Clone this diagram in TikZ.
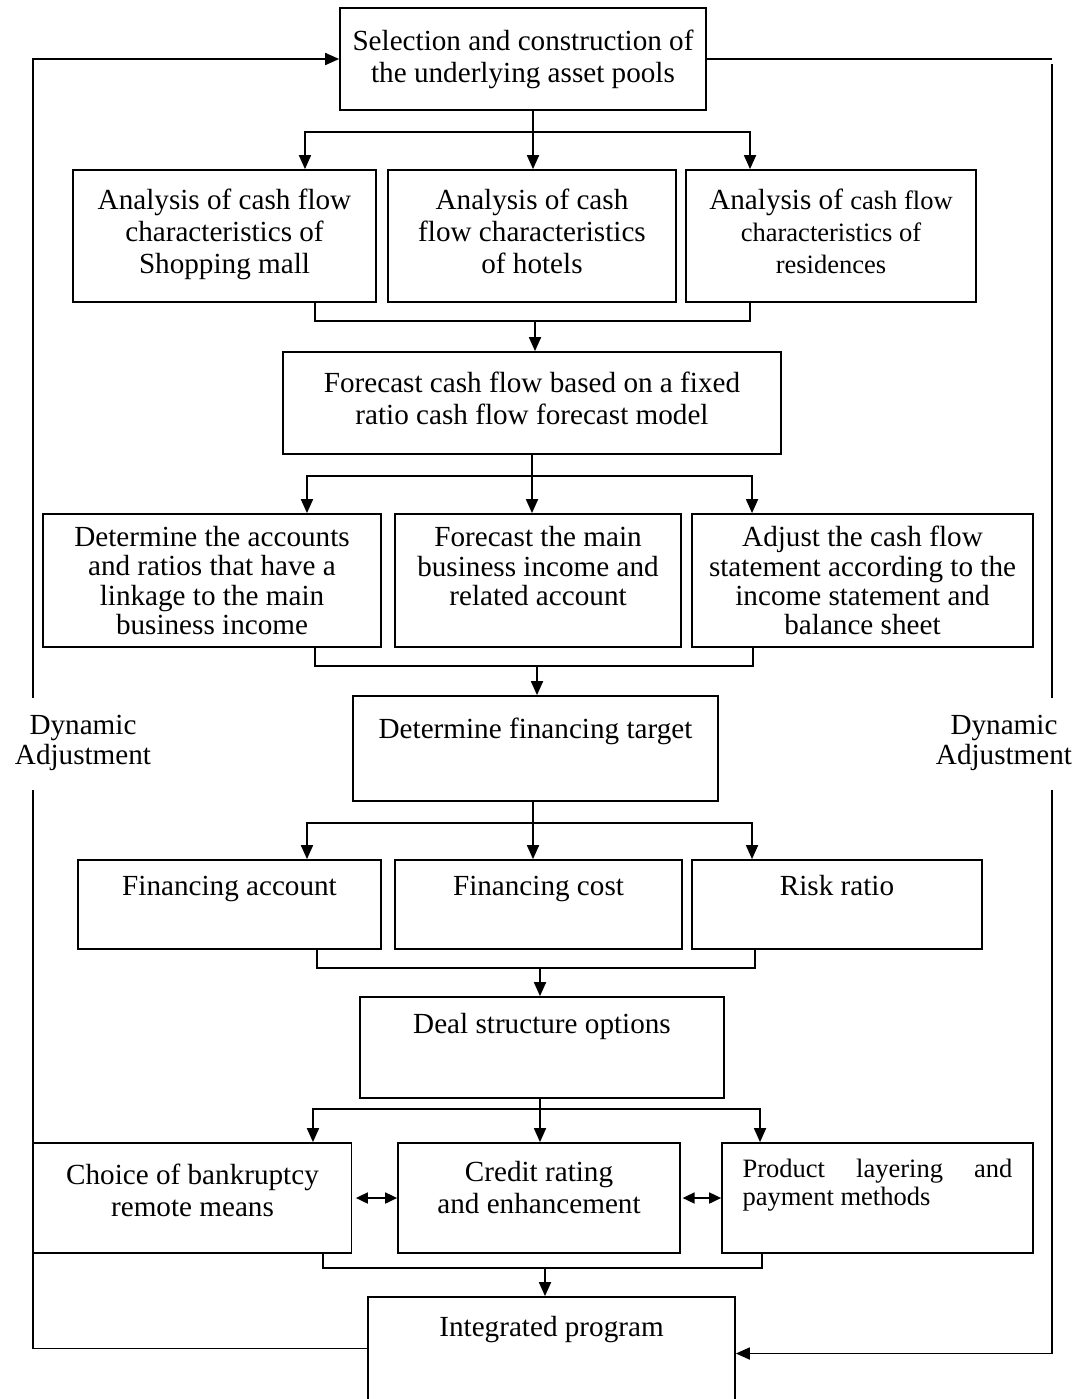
\documentclass[tikz,border=0pt]{standalone}
\usepackage{fontspec}
\setmainfont{Liberation Serif}
\usepackage{tikz}
\usetikzlibrary{arrows.meta,calc}
\newcommand{\mainfs}{\fontsize{16.6pt}{18.2pt}\selectfont}
\newcommand{\tightfs}{\fontsize{16.6pt}{16.6pt}\selectfont}
\newcommand{\smallfs}{\fontsize{15.1pt}{16pt}\selectfont}
\tikzset{
  box/.style={
    draw=black,
    line width=1pt,
    align=center,
    inner sep=0pt,
    font=\mainfs
  },
  lbl/.style={
    align=center,
    inner sep=0pt,
    font=\tightfs
  },
  link/.style={
    line width=1pt,
    black
  },
  arrow/.style={
    -{Triangle[length=0.28cm,width=0.24cm]},
    line width=1pt,
    black
  },
  dblarrow/.style={
    {Triangle[length=0.24cm,width=0.22cm]}-{Triangle[length=0.24cm,width=0.22cm]},
    line width=1pt,
    black
  }
}

\begin{document}
\begin{tikzpicture}[x=0.02cm,y=-0.02cm]
\useasboundingbox (0,0) rectangle (1081,1399);

% boxes
\node[box,minimum width=7.32cm,minimum height=2.04cm] (sel) at (523,59)
  {Selection and construction of\\the underlying asset pools};

\node[box,minimum width=6.06cm,minimum height=2.64cm] (l2a) at (224.5,236)
  {Analysis of cash flow\\characteristics of\\Shopping mall\strut};
\node[box,minimum width=5.76cm,minimum height=2.64cm] (l2b) at (532,236)
  {Analysis of cash\\flow characteristics\\of hotels\strut};
\node[box,minimum width=5.80cm,minimum height=2.64cm] (l2c) at (831,236)
  {Analysis of {\smallfs cash flow}\\{\smallfs characteristics of}\\{\smallfs residences}\strut};

\node[box,minimum width=9.96cm,minimum height=2.04cm] (fore) at (532,403)
  {Forecast cash flow based on a fixed\\ratio cash flow forecast model\strut};

\node[box,font=\tightfs,minimum width=6.76cm,minimum height=2.66cm] (l4a) at (212,580.5)
  {Determine the accounts\\and ratios that have a\\linkage to the main\\business income};
\node[box,font=\tightfs,minimum width=5.72cm,minimum height=2.66cm] (l4b) at (538,580.5)
  {Forecast the main\\business income and\\related account\\\mbox{}};
\node[box,font=\tightfs,minimum width=6.82cm,minimum height=2.66cm] (l4c) at (862.5,580.5)
  {Adjust the cash flow\\statement according to the\\income statement and\\balance sheet};

\node[box,minimum width=7.30cm,text height=0.84cm,text depth=1.26cm] (target) at (535.5,748.5)
  {Determine financing target};

\node[box,minimum width=6.06cm,text height=0.70cm,text depth=1.08cm] (l6a) at (229.5,904.5)
  {Financing account};
\node[box,minimum width=5.74cm,text height=0.70cm,text depth=1.08cm] (l6b) at (538.5,904.5)
  {Financing cost};
\node[box,minimum width=5.80cm,text height=0.70cm,text depth=1.08cm] (l6c) at (837,904.5)
  {Risk ratio};

\node[box,minimum width=7.28cm,text height=0.72cm,text depth=1.30cm] (deal) at (542,1047.5)
  {Deal structure options};

\node[box,minimum width=6.36cm,minimum height=2.2cm] (l8a) at (192.5,1198)
  {Choice of bankruptcy\\remote means\\[-9.2pt]};
\node[box,minimum width=5.64cm,minimum height=2.2cm] (l8b) at (539,1198)
  {Credit rating\\and enhancement\\[-5.7pt]};
\node[box,minimum width=6.22cm,minimum height=2.2cm] (l8c) at (877.5,1198)
  {\begin{minipage}{5.4cm}\smallfs\hyphenpenalty=10000
   Product layering and \mbox{payment} methods\\[1.5pt]\end{minipage}};

\node[box,minimum width=7.34cm,text height=0.78cm,text depth=1.48cm] (integ) at (551.5,1353.5)
  {Integrated program};

\node[lbl] (dynl) at (83,743) {Dynamic\\Adjustment};
\node[lbl] (dynr) at (1004,743) {Dynamic\\Adjustment};

% split and merge points
\coordinate (s1) at (533,132);
\coordinate (m1) at (535,321);
\coordinate (s2) at (532,476);
\coordinate (m2) at (537,666);
\coordinate (s3) at (533,823);
\coordinate (m3) at (540,968);
\coordinate (s4) at (540,1109);
\coordinate (m4) at (545,1268);

% selection -> analyses
\draw[link] (sel.south -| s1) -- (s1);
\draw[arrow] (s1) -| ([xshift=1.61cm]l2a.north);
\draw[arrow] (s1) -- (l2b.north -| s1);
\draw[arrow] (s1) -| ([xshift=-1.62cm]l2c.north);
\draw[link] ([xshift=1.81cm]l2a.south) |- (m1);
\draw[link] ([xshift=-1.62cm]l2c.south) |- (m1);
\draw[arrow] (m1) -- (fore.north -| m1);

% forecast -> accounts
\draw[link] (fore.south -| s2) -- (s2);
\draw[arrow] (s2) -| ([xshift=1.9cm]l4a.north);
\draw[arrow] (s2) -- (l4b.north -| s2);
\draw[arrow] (s2) -| ([xshift=-2.21cm]l4c.north);
\draw[link] ([xshift=2.06cm]l4a.south) |- (m2);
\draw[link] ([xshift=-2.19cm]l4c.south) |- (m2);
\draw[arrow] (m2) -- (target.north -| m2);

% target -> financing
\draw[link] (target.south -| s3) -- (s3);
\draw[arrow] (s3) -| ([xshift=1.55cm]l6a.north);
\draw[arrow] (s3) -- (l6b.north -| s3);
\draw[arrow] (s3) -| ([xshift=-1.7cm]l6c.north);
\draw[link] ([xshift=1.75cm]l6a.south) |- (m3);
\draw[link] ([xshift=-1.64cm]l6c.south) |- (m3);
\draw[arrow] (m3) -- (deal.north -| m3);

% deal -> options
\draw[link] (deal.south -| s4) -- (s4);
\draw[arrow] (s4) -| ([xshift=2.41cm]l8a.north);
\draw[arrow] (s4) -- (l8b.north -| s4);
\draw[arrow] (s4) -| ([xshift=-2.35cm]l8c.north);
\draw[dblarrow] ([xshift=2pt]l8a.east) -- (l8b.west);
\draw[dblarrow] ([xshift=1pt]l8b.east) -- (l8c.west);
\draw[link] ([xshift=2.61cm]l8a.south) |- (m4);
\draw[link] ([xshift=-2.31cm]l8c.south) |- (m4);
\draw[arrow] (m4) -- (integ.north -| m4);

% dynamic adjustment loops
\coordinate (lu) at (33,698);
\coordinate (ll) at (33,790);
\coordinate (ru) at (1052,698);
\coordinate (rl) at (1052,790);
\draw[arrow] (lu) |- (sel.west);
\draw[link] ([yshift=0.1cm]integ.west) -| (ll);
\draw[link] (sel.east) -- (sel.east -| ru);
\draw[link] ([yshift=-0.1cm]sel.east -| ru) -- (ru);
\draw[arrow] (rl) |- (integ.east);
\end{tikzpicture}
\end{document}
